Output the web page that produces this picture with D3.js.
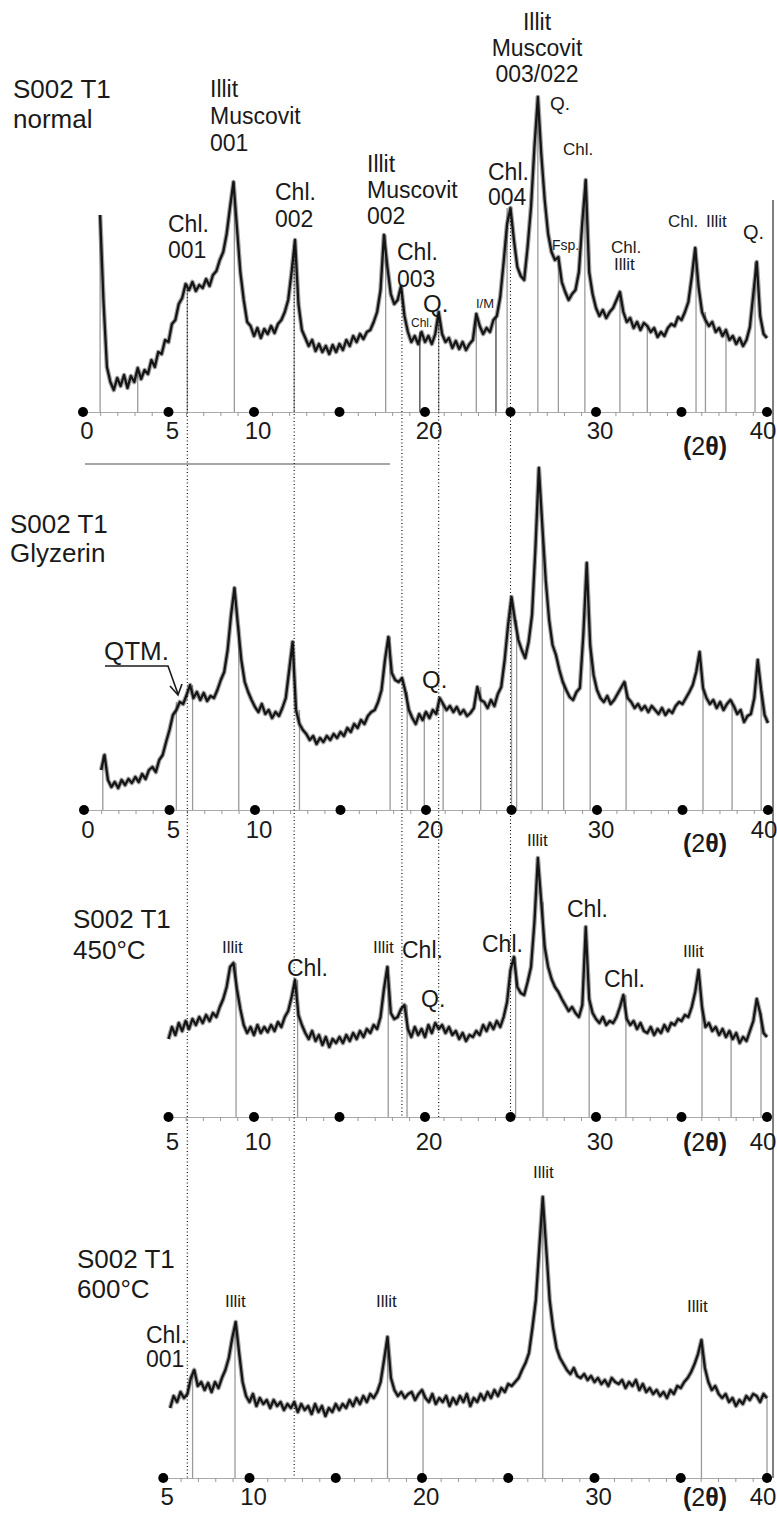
<!DOCTYPE html>
<html><head><meta charset="utf-8">
<script src="https://cdn.jsdelivr.net/npm/d3@7"></script>
<style>
body{margin:0;background:#fff}
svg{display:block}
text{font-family:"Liberation Sans",Arial,Helvetica,sans-serif;fill:#1a1a1a}
</style></head>
<body><svg id="c" width="777" height="1514"></svg>
<script>
// ---------- DATA (2θ step 0.2°, intensity in relative units) ----------
const step = 0.2;
const normalStart = 1.0;
const normalIntensity = [
197,110,45,30,22,34,26,37,24,36,
30,44,33,42,38,52,45,60,58,72,
70,88,92,108,114,128,122,130,121,127,
124,133,126,137,141,152,160,178,205,230,
185,140,112,90,86,76,84,74,83,78,
86,79,88,92,100,112,140,172,108,82,
74,66,72,61,68,60,66,58,67,60,
68,62,72,66,76,70,78,73,80,82,
90,100,122,177,145,118,108,112,126,96,
80,70,76,68,80,70,76,68,78,100,
78,70,74,64,71,63,70,62,68,72,
98,86,78,84,80,92,96,115,150,188,
204,172,145,136,132,165,205,265,315,258,
212,178,160,152,155,130,120,112,118,122,
140,190,232,140,118,104,96,102,94,100,
104,112,120,100,90,94,84,90,82,89,
86,80,84,75,80,76,84,88,86,95,
92,100,110,135,164,125,100,92,86,90,
80,84,76,82,72,76,68,74,66,72,
85,118,150,96,78,74];

const glyzerinStart = 1.0;
const glyzerinIntensity = [
40,55,30,23,28,22,30,25,31,27,
33,28,36,31,40,43,38,50,55,68,
80,95,100,108,106,115,125,112,118,110,
117,109,114,112,120,130,138,160,195,222,
185,150,128,118,110,103,98,106,96,100,
92,98,94,102,112,140,168,100,86,80,
76,70,74,66,72,68,74,70,76,72,
78,74,82,78,86,82,90,86,94,98,
100,108,120,150,173,137,130,128,132,118,
100,92,86,96,90,98,92,100,96,112,
106,100,104,98,103,96,100,94,97,102,
123,110,108,102,110,104,116,123,150,185,
213,190,170,160,152,168,195,262,342,285,
230,190,165,155,140,128,120,113,110,118,
122,175,247,165,135,120,112,108,114,106,
110,116,122,128,112,108,102,106,100,104,
98,104,100,96,102,95,100,97,104,108,
106,112,118,125,138,158,122,112,106,110,
102,108,100,106,110,104,96,100,88,94,
96,112,150,120,95,87];

const c450Start = 5.0;
const c450Intensity = [
78,90,82,94,86,96,88,98,92,100,
94,102,96,104,100,110,118,130,150,154,
128,108,92,84,90,82,92,84,90,85,
92,86,95,90,100,106,120,137,102,92,
84,78,86,76,82,72,80,70,78,74,
80,74,82,76,84,78,86,80,88,84,
92,88,100,128,150,104,98,100,108,112,
88,80,90,82,88,80,92,84,94,88,
92,84,90,82,86,78,84,76,82,80,
86,82,92,86,94,88,96,90,100,115,
147,160,130,124,122,135,150,195,259,215,
170,150,138,130,125,118,112,106,110,104,
100,112,190,118,104,98,94,100,92,96,
94,100,110,122,98,92,96,88,94,86,
84,90,82,88,84,92,86,94,92,98,
96,102,100,110,125,147,110,90,94,86,
90,82,88,80,86,78,84,74,80,76,
86,96,118,104,84,80];

const c600Start = 5.4;
const c600Intensity = [
70,82,76,86,80,84,100,108,92,96,
88,95,86,96,90,100,108,120,140,156,
125,96,82,76,84,72,80,74,78,70,
78,72,76,68,74,70,76,66,74,68,
72,64,74,66,72,62,70,66,74,68,
74,70,78,72,80,74,82,76,84,80,
86,96,118,141,100,88,82,86,80,84,
86,78,84,88,80,76,84,74,80,76,
82,72,80,74,82,76,84,72,80,76,
84,78,86,80,88,82,90,86,94,92,
96,100,108,115,125,150,178,230,281,230,
178,150,130,120,114,108,104,110,102,100,
104,98,102,96,100,94,98,92,100,96,
94,98,90,96,92,98,88,94,86,90,
84,88,82,86,80,88,84,92,90,96,
100,106,114,124,138,110,96,88,92,84,
80,84,76,80,72,78,74,82,78,84,
82,76,84,80];

const normalMarkers   = [1.0,3.2,6.1,8.85,12.35,17.7,20.8,23.0,24.8,26.6,27.8,29.35,31.4,33.0,35.85,36.4,37.6,39.3];
const normalDarkMarkers = [19.7,24.15];
const glyzerinMarkers = [1.1,5.4,6.35,9.05,12.6,17.9,18.9,19.9,21.0,23.2,25.0,25.3,26.8,28.05,29.6,31.7,36.2,37.9,39.6];
const c450Markers     = [8.95,12.55,17.85,18.95,25.3,26.9,29.6,31.75,36.2,37.9,39.65];
const c600Markers     = [6.7,9.16,18.0,20.06,27.0,36.2,40.0];
const dotTicks   = [0,5,10,15,20,25,30,35,40];
const tickLabels = [0,5,10,20,30,40];
const dottedGuides    = [6.1,12.35,18.65,20.8,25.0];
const dottedGuideEnds = [3,3,2,2,2];

// ---------- LAYOUT ----------
const panels = [
 {data:normalIntensity,  start:normalStart,  markers:normalMarkers,  dark:normalDarkMarkers, axisY:412,  x0:83, x40:767, from:0, labelY:439,  thetaY:455},
 {data:glyzerinIntensity,start:glyzerinStart,markers:glyzerinMarkers,dark:[],                axisY:810,  x0:84, x40:768, from:0, labelY:838,  thetaY:852},
 {data:c450Intensity,    start:c450Start,    markers:c450Markers,    dark:[],                axisY:1117, x0:83, x40:767, from:5, labelY:1150, thetaY:1151},
 {data:c600Intensity,    start:c600Start,    markers:c600Markers,    dark:[],                axisY:1478, x0:77, x40:767, from:5, labelY:1505, thetaY:1506}
];

const annotations = [
 {x:13,y:98,s:26,lh:30,t:["S002 T1","normal"]},
 {x:210,y:97,s:23,lh:27,t:["Illit","Muscovit","001"]},
 {x:168,y:232,s:23,lh:26,t:["Chl.","001"]},
 {x:275,y:200,s:23,lh:27,t:["Chl.","002"]},
 {x:367,y:172,s:23,lh:26,t:["Illit","Muscovit","002"]},
 {x:397,y:260,s:23,lh:27,t:["Chl.","003"]},
 {x:423,y:312,s:24,t:["Q."]},
 {x:411,y:327,s:12,t:["Chl."]},
 {x:476,y:308,s:13,t:["I/M"]},
 {x:488,y:180,s:23,lh:25,t:["Chl.","004"]},
 {x:537,y:30,s:23,lh:26,a:"middle",t:["Illit","Muscovit","003/022"]},
 {x:550,y:110,s:19,t:["Q."]},
 {x:563,y:155,s:17,t:["Chl."]},
 {x:552,y:250,s:14,t:["Fsp."]},
 {x:611,y:253,s:17,t:["Chl."]},
 {x:614,y:270,s:17,t:["Illit"]},
 {x:668,y:227,s:17,t:["Chl."]},
 {x:706,y:227,s:17,t:["Illit"]},
 {x:743,y:239,s:20,t:["Q."]},
 {x:10,y:533,s:26,lh:29,t:["S002 T1","Glyzerin"]},
 {x:104,y:660,s:26,t:["QTM."]},
 {x:422,y:688,s:24,t:["Q."]},
 {x:73,y:928,s:26,lh:31,t:["S002 T1","450°C"]},
 {x:222,y:953,s:17,t:["Illit"]},
 {x:287,y:976,s:23,t:["Chl."]},
 {x:373,y:953,s:17,t:["Illit"]},
 {x:402,y:958,s:23,t:["Chl."]},
 {x:421,y:1007,s:23,t:["Q."]},
 {x:482,y:952,s:23,t:["Chl."]},
 {x:527,y:846,s:17,t:["Illit"]},
 {x:567,y:917,s:23,t:["Chl."]},
 {x:604,y:987,s:23,t:["Chl."]},
 {x:683,y:957,s:17,t:["Illit"]},
 {x:77,y:1268,s:26,lh:30,t:["S002 T1","600°C"]},
 {x:146,y:1343,s:23,lh:24,t:["Chl.","001"]},
 {x:225,y:1307,s:17,t:["Illit"]},
 {x:376,y:1307,s:17,t:["Illit"]},
 {x:533,y:1178,s:17,t:["Illit"]},
 {x:687,y:1312,s:17,t:["Illit"]}
];

const svg = d3.select("#c");

function valAt(p, deg){
  const f = (deg - p.start)/step;
  const n = p.data.length;
  const i = Math.max(0, Math.min(n-1, Math.floor(f)));
  const j = Math.min(n-1, i+1);
  return Math.max(p.data[i], p.data[j]);
}

panels.forEach(p=>{
  p.x = d3.scaleLinear().domain([0,40]).range([p.x0,p.x40]);
  p.y = d3.scaleLinear().domain([0,350]).range([p.axisY,p.axisY-350]);
});

// frame / separator
svg.append("line").attr("x1",85).attr("x2",390).attr("y1",464).attr("y2",464)
  .attr("stroke","#888").attr("stroke-width",1.3);
svg.append("line").attr("x1",773).attr("x2",773).attr("y1",200).attr("y2",1478)
  .attr("stroke","#555").attr("stroke-width",1.5);

panels.forEach((p,pi)=>{
  const g = svg.append("g");
  // axis
  const ax = d3.scaleLinear().domain([p.from,40]).range([p.x(p.from),p.x(40)+3]);
  const axG = g.append("g").attr("transform",`translate(0,${p.axisY})`)
    .call(d3.axisBottom(ax).tickValues(d3.range(p.from,40.01,1)).tickSize(4).tickSizeOuter(0).tickFormat(""));
  axG.select(".domain").attr("stroke","#aaa").attr("stroke-width",1.2);
  axG.selectAll(".tick line").attr("stroke","#999");

  // marker lines
  g.selectAll(".mk").data(p.markers).join("line")
    .attr("x1",d=>p.x(d)).attr("x2",d=>p.x(d))
    .attr("y1",d=>p.y(valAt(p,d))).attr("y2",p.axisY)
    .attr("stroke","#9a9a9a").attr("stroke-width",1.3);
  g.selectAll(".dk").data(p.dark).join("line")
    .attr("x1",d=>p.x(d)).attr("x2",d=>p.x(d))
    .attr("y1",d=>p.y(valAt(p,d))).attr("y2",p.axisY)
    .attr("stroke","#333").attr("stroke-width",1.2);

  // trace
  const line = d3.line().x((d,i)=>p.x(p.start+i*step)).y(d=>p.y(d));
  g.append("path").datum(p.data).attr("d",line)
    .attr("fill","none").attr("stroke","#333").attr("stroke-width",4.6).attr("stroke-opacity",0.45)
    .attr("stroke-linejoin","round");
  g.append("path").datum(p.data).attr("d",line)
    .attr("fill","none").attr("stroke","#151515").attr("stroke-width",2.3).attr("stroke-linejoin","round");

  // dots
  g.selectAll(".dot").data(dotTicks.filter(v=>v>=p.from)).join("circle")
    .attr("cx",d=>p.x(d)).attr("cy",p.axisY).attr("r",5).attr("fill","#000");

  // tick labels
  g.selectAll(".tl").data(tickLabels.filter(v=>v>=p.from)).join("text")
    .attr("x",d=> d===40 ? p.x(d)-4 : p.x(d)+4).attr("y",p.labelY)
    .attr("text-anchor","middle").attr("font-size",24).text(d=>d);

  // (2θ)
  const t = g.append("text").attr("x",683).attr("y",p.thetaY).attr("font-size",25);
  t.append("tspan").attr("font-weight","bold").text("(");
  t.append("tspan").text("2");
  t.append("tspan").attr("font-weight","bold").text("θ");
  t.append("tspan").attr("font-weight","bold").text(")");
});

// dotted guide lines
const p0 = panels[0];
svg.selectAll(".guide").data(dottedGuides).join("line")
  .attr("x1",d=>p0.x(d)).attr("x2",d=>p0.x(d))
  .attr("y1",d=>p0.y(valAt(p0,d))+6)
  .attr("y2",(d,i)=>panels[dottedGuideEnds[i]].axisY)
  .attr("stroke","#000").attr("stroke-width",1.1).attr("stroke-dasharray","1,2.5");

// annotations
annotations.forEach(a=>{
  const tx = svg.append("text").attr("x",a.x).attr("y",a.y).attr("font-size",a.s)
    .attr("text-anchor",a.a||"start");
  a.t.forEach((s,i)=>tx.append("tspan").attr("x",a.x).attr("dy",i===0?0:(a.lh||a.s*1.15)).text(s));
});

// QTM underline + arrow
svg.append("path").attr("d","M105,666 L168,666 L178,694")
  .attr("fill","none").attr("stroke","#1a1a1a").attr("stroke-width",1.6);
svg.append("path").attr("d","M170,686 L178,695 L182,684")
  .attr("fill","none").attr("stroke","#1a1a1a").attr("stroke-width",1.6);
</script>
</body></html>
